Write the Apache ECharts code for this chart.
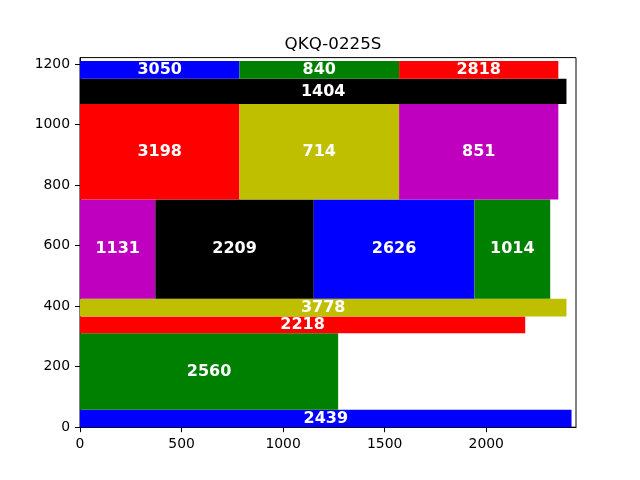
<!DOCTYPE html>
<html>
<head>
<meta charset="utf-8">
<script src="https://cdn.jsdelivr.net/npm/echarts@6/dist/echarts.min.js"></script>
<style>html,body{margin:0;padding:0;background:#fff}#c{width:640px;height:480px}</style>
</head>
<body>
<div id="c"></div>
<script>
// Rectangle data (data units)
var labels = ['2439','2560','2218','3778','1131','2209','2626','1014','3198','714','851','1404','3050','840','2818'];
var x0 = [0, 0, 0, 0, 0, 371, 1151, 1942, 0, 785, 1571, 0, 0, 785, 1571];
var x1 = [2420, 1271, 2192, 2395, 371, 1151, 1942, 2315, 785, 1571, 2355, 2395, 785, 1571, 2355];
var y0 = [0, 58, 310, 366, 424, 424, 424, 424, 752, 752, 752, 1068, 1151, 1151, 1151];
var y1 = [58, 310, 366, 424, 752, 752, 752, 752, 1068, 1068, 1068, 1151, 1210, 1210, 1210];
var colorCycle = ['#0000ff', '#008000', '#ff0000', '#bfbf00', '#bf00bf', '#000000'];
var xTicks = [0, 500, 1000, 1500, 2000];
var yTicks = [0, 200, 400, 600, 800, 1000, 1200];
var titleText = 'QKQ-0225S';
var xMax = 2442, yMax = 1221;

var data = labels.map(function (l, i) { return [x0[i], x1[i], y0[i], y1[i], l, i]; });

var chart = echarts.init(document.getElementById('c'), null, { renderer: 'canvas' });
var axisCommon = {
  type: 'value',
  splitLine: { show: false },
  axisLine: { show: true, onZero: false, lineStyle: { color: '#000', width: 1 } },
  axisTick: { show: true, length: 5, lineStyle: { color: '#000', width: 1 } },
  axisLabel: { color: '#000', fontSize: 13.9, fontFamily: 'DejaVu Sans', margin: 10, formatter: function (v) { return String(v); } }
};
chart.setOption({
  animation: false,
  title: { text: titleText, left: 328, top: 31, textAlign: 'center',
    textStyle: { fontFamily: 'DejaVu Sans', fontSize: 16.7, fontWeight: 'normal', color: '#000' } },
  grid: { left: 80, right: 64, top: 57.6, bottom: 52.8, show: true, borderColor: '#000', borderWidth: 1, backgroundColor: 'transparent' },
  xAxis: echarts.util.merge({ min: 0, max: xMax,
    axisTick: { customValues: xTicks }, axisLabel: { customValues: xTicks } }, axisCommon),
  yAxis: echarts.util.merge({ min: 0, max: yMax,
    axisTick: { customValues: yTicks }, axisLabel: { customValues: yTicks } }, axisCommon),
  series: [{
    type: 'custom',
    data: data,
    encode: { x: [0, 1], y: [2, 3] },
    renderItem: function (params, api) {
      var a = api.coord([api.value(0), api.value(3)]);
      var b = api.coord([api.value(1), api.value(2)]);
      var idx = api.value(5);
      return {
        type: 'rect',
        shape: { x: a[0], y: a[1], width: b[0] - a[0], height: b[1] - a[1] },
        style: { fill: colorCycle[idx % colorCycle.length] },
        textContent: { style: { text: labels[idx], fill: '#fff', fontFamily: 'DejaVu Sans', fontWeight: 'bold', fontSize: 16 } },
        textConfig: { position: 'inside' }
      };
    }
  }]
});
</script>
</body>
</html>
